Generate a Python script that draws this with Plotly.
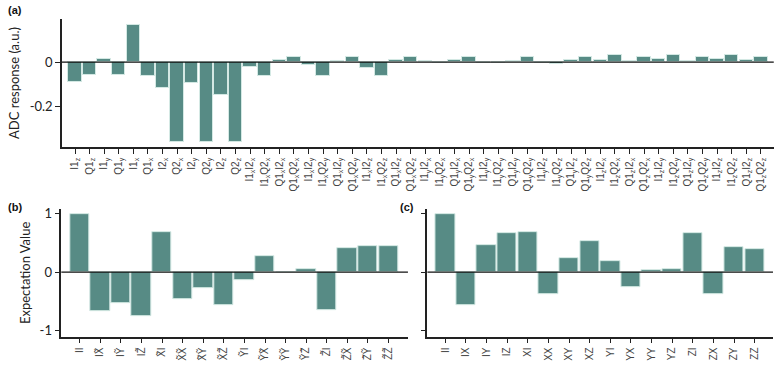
import plotly.graph_objects as go

# (a) ADC response per readout term
adc_labels = [
    "I1<sub>z</sub>", "Q1<sub>z</sub>", "I1<sub>y</sub>", "Q1<sub>y</sub>",
    "I1<sub>x</sub>", "Q1<sub>x</sub>", "I2<sub>x</sub>", "Q2<sub>x</sub>",
    "I2<sub>y</sub>", "Q2<sub>y</sub>", "I2<sub>z</sub>", "Q2<sub>z</sub>",
]
# product terms, in drawn order: I1I2, I1Q2, Q1I2, Q1Q2 for each pair of axes
for a in ["x", "y", "z"]:
    for b in ["x", "y", "z"]:
        for p, q in [("I1", "I2"), ("I1", "Q2"), ("Q1", "I2"), ("Q1", "Q2")]:
            adc_labels.append(f"{p}<sub>{a}</sub>{q}<sub>{b}</sub>")

adc_values = [
    -0.088, -0.057, 0.012, -0.060, 0.165, -0.064, -0.115, -0.357,
    -0.093, -0.360, -0.147, -0.357,
    -0.021, -0.063, 0.008, 0.021,
    -0.015, -0.063, 0.006, 0.021,
    -0.028, -0.063, 0.009, 0.021,
    0.003, -0.006, 0.008, 0.021,
    -0.004, -0.005, 0.005, 0.021,
    -0.004, -0.007, 0.008, 0.021,
    0.010, 0.031, 0.007, 0.021,
    0.012, 0.031, 0.005, 0.021,
    0.013, 0.031, 0.009, 0.021,
]

# (b) and (c) expectation values
pauli_b = ["II", "IX̃", "IỸ", "IZ̃", "X̃I", "X̃X̃", "X̃Ỹ", "X̃Z̃",
           "ỸI", "ỸX̃", "ỸỸ", "ỸZ̃", "Z̃I", "Z̃X̃", "Z̃Ỹ", "Z̃Z̃"]
exp_b = [1.0, -0.664, -0.53, -0.755, 0.68, -0.47, -0.27, -0.57,
         -0.143, 0.27, 0.004, 0.05, -0.65, 0.417, 0.45, 0.44]

pauli_c = ["II", "IX", "IY", "IZ", "XI", "XX", "XY", "XZ",
           "YI", "YX", "YY", "YZ", "ZI", "ZX", "ZY", "ZZ"]
exp_c = [1.0, -0.57, 0.463, 0.663, 0.68, -0.383, 0.24, 0.537,
         0.189, -0.251, 0.034, 0.057, 0.669, -0.383, 0.423, 0.40]

bar_color = "#578b85"
edge_color = "#d4e9e4"
axis_color = "#222222"
title_font = dict(family="Lato", size=13, color="#222")
tick_font = dict(family="Liberation Sans", size=10, color="#444")

fig = go.Figure()

for vals, xa, ya, w in [(adc_values, "x", "y", 0.92), (exp_b, "x2", "y2", 0.94),
                        (exp_c, "x3", "y3", 0.94)]:
    fig.add_trace(go.Bar(x=list(range(len(vals))), y=vals,
                         marker=dict(color=bar_color, line=dict(color=edge_color, width=1)),
                         width=w, xaxis=xa, yaxis=ya, showlegend=False))

common_x = dict(showline=True, linecolor=axis_color, linewidth=1.5, ticks="outside",
                ticklen=5, tickcolor=axis_color, tickwidth=1.2, showgrid=False,
                zeroline=False, tickangle=-90, tickmode="array", automargin=False,
                tickfont=tick_font)
common_y = dict(showline=True, linecolor=axis_color, linewidth=1.5, ticks="outside",
                ticklen=5, tickcolor=axis_color, tickwidth=1.2, showgrid=False,
                zeroline=False, tickmode="array", tickfont=title_font, automargin=False)

fig.update_layout(
    width=780, height=365,
    margin=dict(l=0, r=0, t=0, b=0),
    plot_bgcolor="white", paper_bgcolor="white",
    bargap=0,
    xaxis=dict(common_x, domain=[0.0795, 0.992], range=[-0.89, 47.88],
               tickvals=list(range(len(adc_labels))), ticktext=adc_labels, anchor="y"),
    yaxis=dict(common_y, domain=[0.597, 0.948], range=[-0.381, 0.193],
               tickvals=[0, -0.2], ticktext=["0", "-0.2"], anchor="x",
               title=dict(text="ADC response (a.u.)", font=title_font, standoff=7)),
    xaxis2=dict(common_x, domain=[0.0786, 0.523], range=[-0.89, 15.94],
                tickvals=list(range(len(pauli_b))), ticktext=pauli_b, anchor="y2"),
    yaxis2=dict(common_y, domain=[0.0775, 0.427], range=[-1.11, 1.08],
                tickvals=[-1, 0, 1], ticktext=["-1", "0", "1"], anchor="x2",
                title=dict(text="Expectation Value", font=title_font, standoff=6)),
    xaxis3=dict(common_x, domain=[0.548, 0.991], range=[-0.87, 15.89],
                tickvals=list(range(len(pauli_c))), ticktext=pauli_c, anchor="y3"),
    yaxis3=dict(common_y, domain=[0.0775, 0.427], range=[-1.11, 1.08],
                tickvals=[-1, 0, 1], showticklabels=False, anchor="x3"),
)

# zero reference lines drawn over the bars
for xr, yr in [("x", "y"), ("x2", "y2"), ("x3", "y3")]:
    fig.add_shape(type="line", xref=f"{xr} domain", yref=yr, x0=0, x1=1, y0=0, y1=0,
                  line=dict(color="#111", width=1.2), layer="above")

panel_font = dict(family="Liberation Sans", size=11, color="#111")
for txt, x, y in [("<b>(a)</b>", 6, 10), ("<b>(b)</b>", 6, 207), ("<b>(c)</b>", 398, 207)]:
    fig.add_annotation(text=txt, xref="paper", yref="paper", x=x / 780, y=1 - y / 365,
                       xanchor="left", yanchor="middle", showarrow=False, font=panel_font)

# the page's default body margin would push the figure off the 780x365 window
fig.write_html("out.html", config={"displayModeBar": False},
               post_script="document.body.style.margin='0';")
